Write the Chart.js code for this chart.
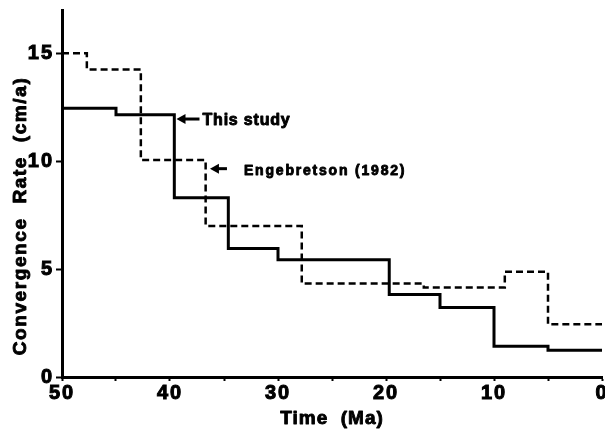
<!DOCTYPE html>
<html>
<head>
<meta charset="utf-8">
<script src="https://cdn.jsdelivr.net/npm/chart.js@4/dist/chart.umd.min.js"></script>
<style>
  html, body { margin: 0; padding: 0; background: #fff; }
  canvas { display: block; }
</style>
</head>
<body>
<canvas id="rateChart" width="605" height="431"></canvas>
<script>
// time ticks (Ma)
const timeTicks = [50, 40, 30, 20, 10, 0];
const rateTicks = [0, 5, 10, 15];

// step boundaries (Ma) and rate held on each interval (cm/a)
const studyAges = [50, 45, 39.6, 34.6, 30, 19.7, 15, 10, 5, 0];
const studyRates = [12.45, 12.15, 8.3, 5.95, 5.43, 3.82, 3.22, 1.43, 1.24];

const engebretsonAges = [50, 47.7, 42.7, 36.7, 27.8, 16.5, 9.0, 5.0, 0];
const engebretsonRates = [15.0, 14.24, 10.05, 7.0, 4.33, 4.15, 4.88, 2.44];

// arrow labels, anchored at a point on the curve they name
const noteTexts = ['This study', 'Engebretson (1982)'];
const noteAges = [39.4, 36.3];
const noteRates = [11.95, 9.65];

const FONT = '"Liberation Sans", Arial, sans-serif';

function toSteps(ages, rates) {
    return ages.map((age, i) => ({ x: age, y: rates[Math.min(i, rates.length - 1)] }));
}

// heavy text: thin outline under the fill, like the old plotter lettering
function heavyText(ctx, text, x, y, spacing) {
    ctx.letterSpacing = spacing + 'px';
    ctx.lineWidth = 0.9;
    ctx.lineJoin = 'round';
    ctx.strokeText(text, x, y);
    ctx.fillText(text, x, y);
}

const decorations = {
    id: 'decorations',
    beforeDraw(chart) {
        chart.ctx.letterSpacing = '2px';
    },
    afterDraw(chart) {
        const ctx = chart.ctx;
        const xs = chart.scales.x;
        const ys = chart.scales.y;
        ctx.save();
        ctx.fillStyle = '#000';
        ctx.strokeStyle = '#000';

        // axis titles
        ctx.font = 'bold 19px ' + FONT;
        ctx.textAlign = 'center';
        ctx.textBaseline = 'middle';
        ctx.save();
        ctx.translate(21, 216);
        ctx.rotate(-Math.PI / 2);
        heavyText(ctx, 'Convergence  Rate  (cm/a)', 0, 0, 1.6);
        ctx.restore();
        ctx.font = 'bold 19px ' + FONT;
        heavyText(ctx, 'Time  (Ma)', 332, 419, 1);

        // arrows with labels
        const tails = [23, 17];
        const gaps = [3, 17];
        const sizes = [16, 14];
        const spacing = [0.8, 1.8];
        noteTexts.forEach((text, i) => {
            const tx = xs.getPixelForValue(noteAges[i]);
            const ty = ys.getPixelForValue(noteRates[i]);
            ctx.lineWidth = 3;
            ctx.beginPath();
            ctx.moveTo(tx + 6, ty);
            ctx.lineTo(tx + tails[i], ty);
            ctx.stroke();
            ctx.beginPath();
            ctx.moveTo(tx, ty);
            ctx.lineTo(tx + 9, ty - 5);
            ctx.lineTo(tx + 9, ty + 5);
            ctx.closePath();
            ctx.fill();
            ctx.font = 'bold ' + sizes[i] + 'px ' + FONT;
            ctx.textAlign = 'left';
            heavyText(ctx, text, tx + tails[i] + gaps[i], ty + 2, spacing[i]);
        });
        ctx.restore();
    }
};

const tickFont = { family: FONT, size: 20, weight: 'bold' };

const ctx = document.getElementById('rateChart').getContext('2d');
const rateChart = new Chart(ctx, {
    type: 'line',
    data: {
        datasets: [
            {
                label: 'This study',
                data: toSteps(studyAges, studyRates),
                stepped: true,
                borderColor: '#000',
                borderWidth: 3,
                pointRadius: 0,
                fill: false
            },
            {
                label: 'Engebretson (1982)',
                data: toSteps(engebretsonAges, engebretsonRates),
                stepped: true,
                borderColor: '#000',
                borderWidth: 2.5,
                borderDash: [7, 4],
                pointRadius: 0,
                fill: false
            }
        ]
    },
    options: {
        responsive: false,
        animation: false,
        events: [],
        layout: {
            padding: { top: 10, right: 3, left: 0, bottom: 0 }
        },
        plugins: {
            legend: { display: false },
            tooltip: { enabled: false }
        },
        scales: {
            x: {
                type: 'linear',
                min: 0,
                max: 50,
                reverse: true,
                afterFit(scale) {
                    scale.height = 54;
                    scale.paddingLeft = 0;
                    scale.paddingRight = 0;
                },
                ticks: {
                    stepSize: 5,
                    maxRotation: 0,
                    autoSkip: false,
                    padding: 0,
                    color: '#000',
                    textStrokeColor: '#000',
                    textStrokeWidth: 1,
                    font: tickFont,
                    callback: value => timeTicks.includes(value) ? String(value) : ''
                },
                grid: {
                    drawOnChartArea: false,
                    drawTicks: true,
                    tickLength: 4,
                    tickWidth: 2,
                    tickColor: '#000'
                },
                border: { color: '#000', width: 3 }
            },
            y: {
                min: 0,
                max: 17,
                afterFit(scale) {
                    scale.width = 62;
                    scale.paddingTop = 0;
                    scale.paddingBottom = 0;
                },
                ticks: {
                    stepSize: 5,
                    includeBounds: false,
                    padding: 2,
                    color: '#000',
                    textStrokeColor: '#000',
                    textStrokeWidth: 1,
                    font: tickFont,
                    callback: value => rateTicks.includes(value) ? String(value) : ''
                },
                grid: {
                    drawOnChartArea: false,
                    drawTicks: true,
                    tickLength: 6,
                    tickWidth: 2,
                    tickColor: '#000'
                },
                border: { color: '#000', width: 3 }
            }
        }
    },
    plugins: [decorations]
});
</script>
</body>
</html>
